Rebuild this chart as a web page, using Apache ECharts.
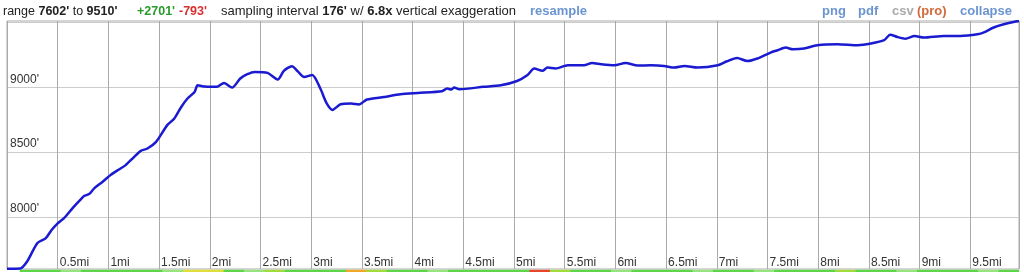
<!DOCTYPE html>
<html><head><meta charset="utf-8">
<script src="https://cdn.jsdelivr.net/npm/echarts@6/dist/echarts.min.js"></script>
<style>html,body{margin:0;padding:0;background:#fff}#c{width:1024px;height:272px}</style>
</head><body><div id="c"></div>
<script>
// distance along route (miles) and elevation (feet)
const miles = [0, 0.13, 0.20, 0.30, 0.38, 0.44, 0.50, 0.56, 0.645, 0.72, 0.76, 0.81, 0.86, 0.94, 1.02, 1.10, 1.17, 1.25, 1.32, 1.385, 1.47, 1.58, 1.65, 1.72, 1.78, 1.85, 1.88, 1.95, 2.01, 2.07, 2.14, 2.22, 2.30, 2.37, 2.44, 2.57, 2.67, 2.73, 2.81, 2.87, 2.93, 3.01, 3.09, 3.15, 3.21, 3.29, 3.39, 3.47, 3.55, 3.72, 3.88, 4.05, 4.29, 4.34, 4.38, 4.41, 4.46, 4.70, 4.87, 5.03, 5.13, 5.20, 5.28, 5.33, 5.41, 5.53, 5.69, 5.77, 5.86, 5.99, 6.10, 6.22, 6.35, 6.48, 6.58, 6.68, 6.81, 7.01, 7.10, 7.20, 7.30, 7.40, 7.53, 7.60, 7.68, 7.75, 7.86, 7.99, 8.19, 8.39, 8.52, 8.65, 8.71, 8.78, 8.86, 8.95, 9.04, 9.24, 9.40, 9.57, 9.64, 9.73, 9.83, 9.96, 9.98];
const elevFt = [7602, 7604, 7660, 7800, 7836, 7900, 7951, 7990, 8067, 8130, 8162, 8177, 8221, 8270, 8323, 8365, 8400, 8460, 8510, 8528, 8579, 8708, 8759, 8850, 8913, 8964, 9015, 9005, 9003, 9003, 9033, 8997, 9067, 9100, 9118, 9110, 9059, 9126, 9162, 9120, 9079, 9095, 8990, 8880, 8825, 8869, 8874, 8867, 8905, 8925, 8946, 8956, 8969, 8990, 8982, 8997, 8985, 9003, 9015, 9048, 9092, 9144, 9126, 9151, 9144, 9169, 9169, 9187, 9177, 9169, 9187, 9167, 9169, 9164, 9151, 9164, 9151, 9169, 9200, 9225, 9202, 9221, 9267, 9285, 9305, 9292, 9298, 9323, 9331, 9323, 9336, 9362, 9405, 9387, 9374, 9395, 9382, 9395, 9395, 9408, 9425, 9460, 9485, 9508, 9510];
const yGridValues = [8000, 8500, 9000, 9500];
const yLabelValues = [8000, 8500, 9000];
// slope strip grades (0 light ... 5 steep) per segment
const stripGrade = [1,1,0,1,1,1,1,0,3,3,1,0,2,1,1,1,4,2,1,1,0,1,1,1,1,5,2,1,1,0,1,1,1,0,1,1,0,1,1,1,2,1,1,0,1,1,1,0,1];

const headerMain = {range1: "7602'", range2: "9510'", gain: "+2701'", loss: "-793'", interval: "176'", exag: "6.8x"};

const FONT = "'Liberation Sans', Arial, Helvetica, sans-serif";
const chart = echarts.init(document.getElementById('c'));
const lineData = miles.map((m, i) => [m, elevFt[i]]);
const stripCats = stripGrade.map((g, i) => String(i));
const stripData = stripGrade.map((g, i) => [i, 0, g]);

function txt(left, text, color, bold, size, rich) {
  return {type: 'text', left: left, top: 5, style: {text: text, fill: color, font: (bold ? 'bold ' : '') + size + 'px ' + FONT, rich: rich}};
}
function boldRich(size) {
  return {b: {fontWeight: 'bold', fontFamily: FONT, fontSize: size, fill: '#222', color: '#222'}};
}

chart.setOption({
  animation: false,
  textStyle: {fontFamily: FONT},
  graphic: [
    txt(3, 'range {b|' + headerMain.range1 + '} to {b|' + headerMain.range2 + '}', '#222', false, 12.5, boldRich(12.5)),
    txt(137, headerMain.gain, '#2a9a2a', true, 12.5),
    txt(179, headerMain.loss, '#d83030', true, 12.5),
    txt(221, 'sampling interval {b|' + headerMain.interval + '} w/ {b|' + headerMain.exag + '} vertical exaggeration', '#222', false, 13, boldRich(13)),
    txt(530, 'resample', '#6b95d1', true, 13),
    txt(822, 'png', '#6b95d1', true, 13),
    txt(858, 'pdf', '#6b95d1', true, 13),
    txt(892, 'csv', '#aaaaaa', true, 13),
    txt(917, '(pro)', '#d2693a', true, 13),
    txt(960, 'collapse', '#6b95d1', true, 13)
  ],
  grid: [
    {left: 7, right: 5, top: 21, bottom: 3, show: true, borderColor: '#aaa', borderWidth: 1},
    {left: 20, right: 5, top: 270, bottom: 0}
  ],
  xAxis: [
    {type: 'value', gridIndex: 0, min: 0, max: 9.98, interval: 0.5,
     axisLine: {show: false}, axisTick: {show: false},
     axisLabel: {inside: true, formatter: v => (v === 0 ? '' : v + 'mi'), align: 'left', padding: [0, 0, 0, 2],
       showMaxLabel: false, showMinLabel: false, color: '#333', fontSize: 12, margin: 0, verticalAlign: 'bottom'},
     splitLine: {lineStyle: {color: '#aaa', width: 1}}},
    {type: 'category', gridIndex: 1, data: stripCats, show: false}
  ],
  yAxis: [
    {type: 'value', gridIndex: 0, min: 7600, max: 9510,
     axisLine: {show: false}, axisTick: {show: false, customValues: yGridValues},
     axisLabel: {inside: true, customValues: yLabelValues, formatter: v => v + "'", color: '#333', fontSize: 12,
       margin: 3, verticalAlign: 'bottom', padding: [0, 0, 2, 0]},
     splitLine: {lineStyle: {color: '#ccc', width: 1}}},
    {type: 'category', gridIndex: 1, data: ['s'], show: false}
  ],
  visualMap: {type: 'piecewise', show: false, seriesIndex: 1, dimension: 2,
    pieces: [
      {value: 0, color: '#96e47e'}, {value: 1, color: '#5cd548'}, {value: 2, color: '#a2dc3a'},
      {value: 3, color: '#e2de38'}, {value: 4, color: '#f0a828'}, {value: 5, color: '#e8452a'}
    ]},
  series: [
    {type: 'line', xAxisIndex: 0, yAxisIndex: 0, data: lineData, showSymbol: false, smooth: 0.25,
     lineStyle: {color: '#1a1ad0', width: 2.5}, itemStyle: {color: '#1a1ad0'}},
    {type: 'heatmap', xAxisIndex: 1, yAxisIndex: 1, data: stripData}
  ]
});
</script></body></html>
